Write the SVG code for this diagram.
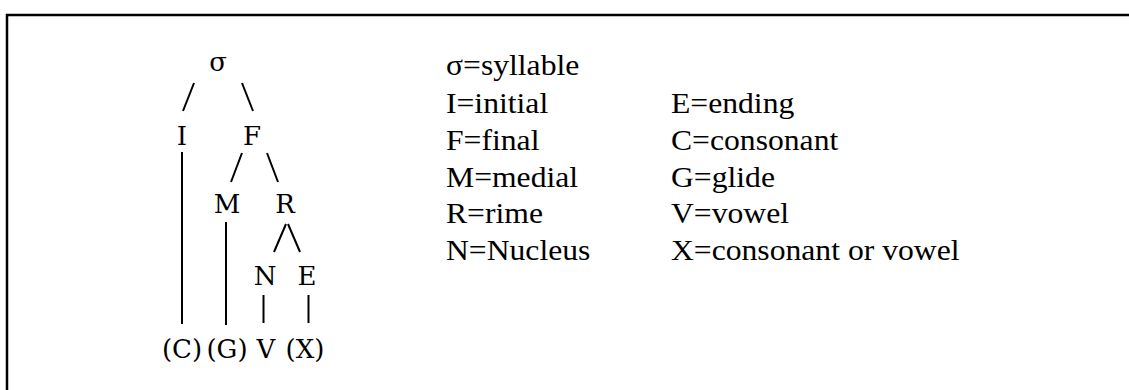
<svg xmlns="http://www.w3.org/2000/svg" width="1129" height="390" viewBox="0 0 1129 390">
<rect width="1129" height="390" fill="#fff"/>
<path d="M7,390 V15 H1129" stroke="#000" stroke-width="2.5" fill="none"/>
<g id="connectors" stroke="#000" stroke-width="2" fill="none">
<line x1="194" y1="83" x2="183" y2="111"/>
<line x1="242" y1="83" x2="253" y2="111"/>
<line x1="182" y1="152" x2="182" y2="324"/>
<line x1="242" y1="153" x2="231" y2="182"/>
<line x1="267" y1="153" x2="278" y2="182"/>
<line x1="226" y1="222" x2="226" y2="325"/>
<line x1="286" y1="224" x2="274" y2="252"/>
<line x1="288" y1="224" x2="300" y2="252"/>
<line x1="263.5" y1="295" x2="263.5" y2="323"/>
<line x1="308.5" y1="295" x2="308.5" y2="323"/>
</g>
<g id="node-sigma"><text x="218" y="71" font-family="DejaVu Serif" font-size="26" text-anchor="middle">&#963;</text></g>
<g id="node-I"><text x="182" y="145" font-family="DejaVu Serif" font-size="26" text-anchor="middle">I</text></g>
<g id="node-F"><text x="252" y="145" font-family="DejaVu Serif" font-size="26" text-anchor="middle">F</text></g>
<g id="node-M"><text x="227" y="213" font-family="DejaVu Serif" font-size="26" text-anchor="middle">M</text></g>
<g id="node-R"><text x="285" y="213" font-family="DejaVu Serif" font-size="26" text-anchor="middle">R</text></g>
<g id="node-N"><text x="265" y="285" font-family="DejaVu Serif" font-size="26" text-anchor="middle">N</text></g>
<g id="node-E"><text x="307" y="285" font-family="DejaVu Serif" font-size="26" text-anchor="middle">E</text></g>
<g id="node-C"><text x="182" y="358" font-family="DejaVu Serif" font-size="26" text-anchor="middle">(C)</text></g>
<g id="node-G"><text x="227" y="358" font-family="DejaVu Serif" font-size="26" text-anchor="middle">(G)</text></g>
<g id="node-V"><text x="266" y="358" font-family="DejaVu Serif" font-size="26" text-anchor="middle">V</text></g>
<g id="node-X"><text x="305" y="358" font-family="DejaVu Serif" font-size="26" text-anchor="middle">(X)</text></g>
<g id="legend">
<g transform="matrix(1.055 0 0 1 -24.53 0)">
<text x="446" y="75" font-family="Liberation Serif" font-size="30">&#963;=syllable</text>
<text x="446" y="113" font-family="Liberation Serif" font-size="30">I=initial</text>
<text x="446" y="150" font-family="Liberation Serif" font-size="30">F=final</text>
<text x="446" y="187" font-family="Liberation Serif" font-size="30">M=medial</text>
<text x="446" y="223" font-family="Liberation Serif" font-size="30">R=rime</text>
<text x="446" y="260" font-family="Liberation Serif" font-size="30">N=Nucleus</text>
</g>
<g transform="matrix(1.055 0 0 1 -36.9 0)">
<text x="671" y="113" font-family="Liberation Serif" font-size="30">E=ending</text>
<text x="671" y="150" font-family="Liberation Serif" font-size="30">C=consonant</text>
<text x="671" y="187" font-family="Liberation Serif" font-size="30">G=glide</text>
<text x="671" y="223" font-family="Liberation Serif" font-size="30">V=vowel</text>
<text x="671" y="260" font-family="Liberation Serif" font-size="30">X=consonant or vowel</text>
</g>
</g>
</svg>
